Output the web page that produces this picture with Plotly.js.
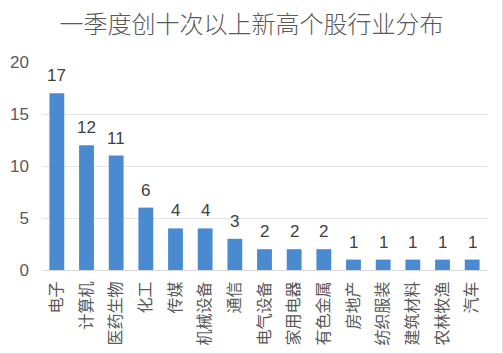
<!DOCTYPE html>
<html><head><meta charset="utf-8">
<script src="https://cdn.plot.ly/plotly-3.0.1.min.js"></script>
<style>html,body{margin:0;padding:0;background:#fff}#c{width:503px;height:354px;box-sizing:border-box;border-right:1px solid #d9d9d9;border-bottom:1px solid #d9d9d9}</style>
</head><body><div id="c"></div>
<script>
const categories = ["电子","计算机","医药生物","化工","传媒","机械设备","通信","电气设备","家用电器","有色金属","房地产","纺织服装","建筑材料","农林牧渔","汽车"];
const values = [17,12,11,6,4,4,3,2,2,2,1,1,1,1,1];
const yTicks = [0,5,10,15,20];

const annotations = categories.map((c, i) => ({
  x: c, y: values[i], xref: 'x', yref: 'y', text: String(values[i]),
  showarrow: false, yanchor: 'bottom', yshift: 6,
  font: {family: '"Liberation Sans", "Noto Sans CJK SC"', size: 17, color: '#404040'}
}));

Plotly.newPlot('c', [{
  type: 'bar', x: categories, y: values,
  marker: {color: '#4a8ad0'},
  hoverinfo: 'none'
}], {
  width: 503, height: 354,
  margin: {l: 42, r: 16, t: 62, b: 84},
  paper_bgcolor: 'rgba(0,0,0,0)', plot_bgcolor: '#fff',
  bargap: 0.5,
  annotations: annotations,
  title: {text: '一季度创十次以上新高个股行业分布', x: 0.5, xanchor: 'center', y: 0.93, yanchor: 'middle',
    font: {family: '"Noto Sans CJK SC"', size: 24, color: '#595959', weight: 300}},
  xaxis: {tickangle: -90, tickfont: {family: '"Noto Sans CJK SC"', size: 16, color: '#595959'},
    showline: true, linecolor: '#d9d9d9', ticks: '', showgrid: false, ticklabelstandoff: 4},
  yaxis: {range: [0, 20], tickvals: yTicks, ticktext: yTicks.map(String),
    tickfont: {family: '"Liberation Sans", "Noto Sans CJK SC"', size: 17, color: '#595959'},
    showgrid: true, gridcolor: '#e3e3e3', zeroline: false, showline: false, ticks: '', ticklabelstandoff: 12},
  showlegend: false
}, {displayModeBar: false, staticPlot: true});
</script></body></html>
